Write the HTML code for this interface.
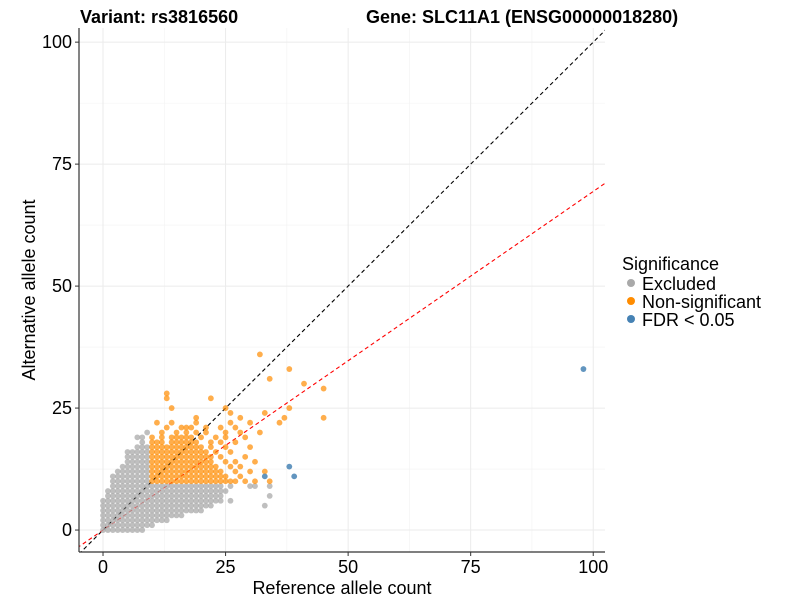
<!DOCTYPE html>
<html><head><meta charset="utf-8">
<style>
body{margin:0;background:#fff;font-family:"Liberation Sans",Arial,sans-serif;}
svg text{font-family:"Liberation Sans",Arial,sans-serif;}
</style></head>
<body>
<svg id="chart" width="800" height="600" xmlns="http://www.w3.org/2000/svg">
<text x="80" y="23" font-size="18" font-weight="bold">Variant: rs3816560</text>
<text x="366" y="23" font-size="18" font-weight="bold">Gene: SLC11A1 (ENSG00000018280)</text>
<g id="grid"></g>
<g id="clip-g" clip-path="url(#pc)"><g id="lines"></g><g id="pts"></g></g>
<defs><clipPath id="pc"><rect x="79" y="28" width="526" height="524"/></clipPath></defs>
<line x1="79" y1="28" x2="79" y2="552" stroke="#333" stroke-width="1.2"/>
<line x1="79" y1="552" x2="605" y2="552" stroke="#333" stroke-width="1.2"/>
<g id="ticks"></g>
<text x="342" y="594" font-size="18" text-anchor="middle">Reference allele count</text>
<text transform="translate(35,290) rotate(-90)" font-size="18" text-anchor="middle">Alternative allele count</text>
<g>
<text x="622" y="270" font-size="18">Significance</text>
<g><circle cx="631" cy="283" r="4" fill="#A9A9A9"/><text x="642" y="290" font-size="18">Excluded</text></g>
<g><circle cx="631" cy="301" r="4" fill="#FF8C00"/><text x="642" y="308" font-size="18">Non-significant</text></g>
<g><circle cx="631" cy="319" r="4" fill="#4682B4"/><text x="642" y="326" font-size="18">FDR &lt; 0.05</text></g>
</g>
</svg>
<script>
const tickValues=[0,25,50,75,100];
const minorValues=[12.5,37.5,62.5,87.5];
const excludedYs=[0,1,2,3,4,5,6,7,8,9,10,11,12,13,14,15,16,17,18,19,20];
const excludedXs=[
[0,1,2,3,4,5,6,7,8],
[0,1,2,3,4,5,6,7,8,9,10],
[0,1,2,3,4,5,6,7,8,9,10,11,12,13],
[0,1,2,3,4,5,6,7,8,9,10,11,12,13,14,15,16],
[0,1,2,3,4,5,6,7,8,9,10,11,12,13,14,15,16,17,18,19,20],
[0,1,2,3,4,5,6,7,8,9,10,11,12,13,14,15,16,17,18,19,20,21,22,33],
[0,1,2,3,4,5,6,7,8,9,10,11,12,13,14,15,16,17,18,19,20,21,22,23,24,26],
[1,2,3,4,5,6,7,8,9,10,11,12,13,14,15,16,17,18,19,20,21,22,23,24,34],
[1,2,3,4,5,6,7,8,9,10,11,12,13,14,15,16,17,18,19,20,21,22,23,24,25],
[2,3,4,5,6,7,8,9,10,11,12,13,14,15,16,17,18,19,20,21,22,23,24,26,30,31,34],
[2,3,4,5,6,7,8,9],
[2,3,4,5,6,7,8,9],
[3,4,5,6,7,8,9],
[4,5,6,7,8,9],
[5,6,7,8,9],
[5,6,7,8,9],
[5,6,7,8,9],
[7,8,9],
[8],
[7,8],
[9]];
const nonsigYs=[10,11,12,13,14,15,16,17,18,19,20,21,22,23,24,25,27,28,29,30,31,33,36];
const nonsigXs=[
[10,11,12,13,14,15,16,17,18,19,20,21,22,23,24,25,26,27,29,31,34],
[10,11,12,13,14,15,16,17,18,19,20,21,22,23,24,25,28],
[10,11,12,13,14,15,16,17,18,19,20,21,22,23,24,27,30,33],
[10,11,12,13,14,15,16,17,18,19,20,21,22,23,26,28],
[10,11,12,13,14,15,16,17,18,19,20,21,22,25,27,31],
[10,11,12,13,14,15,16,17,18,19,20,21,22,24,29],
[10,11,12,13,14,15,16,17,18,19,20,21,23,26],
[10,11,12,13,14,15,16,17,18,19,20,22,25,30],
[10,11,12,14,15,16,17,18,19,22,24,27],
[10,12,14,15,16,17,18,20,23,25,29],
[12,15,17,19,21,25,28,32],
[13,16,17,18,21,24,27],
[11,14,19,26,30,36],
[19,28,37,45],
[26,33],
[14,25,38],
[13,22],
[13],
[45],
[41],
[34],
[38],
[32]];
const fdrX=[33,38,39,98];
const fdrY=[11,13,11,33];
const slopeObserved=0.694;
const X0=-4.9,X1=102.4,Y0=-4.5,Y1=102.9,L=79,R=605,T=28,B=552;
const sx=v=>L+(v-X0)/(X1-X0)*(R-L);
const sy=v=>B-(v-Y0)/(Y1-Y0)*(B-T);
const NS="http://www.w3.org/2000/svg";
function mk(t,a,p){const e=document.createElementNS(NS,t);for(const k in a)e.setAttribute(k,a[k]);p.appendChild(e);return e;}
const grid=document.getElementById('grid');
minorValues.forEach(v=>{
 const a=mk('line',{x1:sx(v),x2:sx(v),y1:T,y2:B,stroke:'#f2f2f2','stroke-width':0.6},grid);
 
 
 const b=mk('line',{x1:L,x2:R,y1:sy(v),y2:sy(v),stroke:'#f2f2f2','stroke-width':0.6},grid);
 
 
});
const ticks=document.getElementById('ticks');
tickValues.forEach(v=>{
 const a=mk('line',{x1:sx(v),x2:sx(v),y1:T,y2:B,stroke:'#ebebeb','stroke-width':1},grid);
 
 
 const b=mk('line',{x1:L,x2:R,y1:sy(v),y2:sy(v),stroke:'#ebebeb','stroke-width':1},grid);
 
 
 mk('line',{x1:sx(v),x2:sx(v),y1:B,y2:B+4,stroke:'#333'},ticks);
 mk('line',{x1:L-4,x2:L,y1:sy(v),y2:sy(v),stroke:'#333'},ticks);
 const tx=mk('text',{x:sx(v),y:B+21,'font-size':18,'text-anchor':'middle'},ticks);tx.textContent=v;
 
 
 const ty=mk('text',{x:L-7,y:sy(v)+6,'font-size':18,'text-anchor':'end'},ticks);ty.textContent=v;
 
 
});
const lines=document.getElementById('lines');
const l1=mk('line',{x1:sx(-10),y1:sy(-10),x2:sx(110),y2:sy(110),stroke:'#000','stroke-width':1.1,'stroke-dasharray':'4,3'},lines);


const l2=mk('line',{x1:sx(-10),y1:sy(-10*slopeObserved),x2:sx(110),y2:sy(110*slopeObserved),stroke:'#f00','stroke-width':1.1,'stroke-dasharray':'4,3'},lines);


const pts=document.getElementById('pts');
excludedYs.forEach((y,i)=>excludedXs[i].forEach(x=>{
 const c=mk('circle',{cx:sx(x),cy:sy(y),r:2.9,fill:'#A9A9A9','fill-opacity':0.75},pts);
 
 
}));
nonsigYs.forEach((y,i)=>nonsigXs[i].forEach(x=>{
 const c=mk('circle',{cx:sx(x),cy:sy(y),r:2.9,fill:'#FF8C00','fill-opacity':0.7},pts);
 
 
}));
fdrX.forEach((x,i)=>{
 const c=mk('circle',{cx:sx(x),cy:sy(fdrY[i]),r:2.9,fill:'#4682B4','fill-opacity':0.85},pts);
 
 
});
</script>
</body></html>
